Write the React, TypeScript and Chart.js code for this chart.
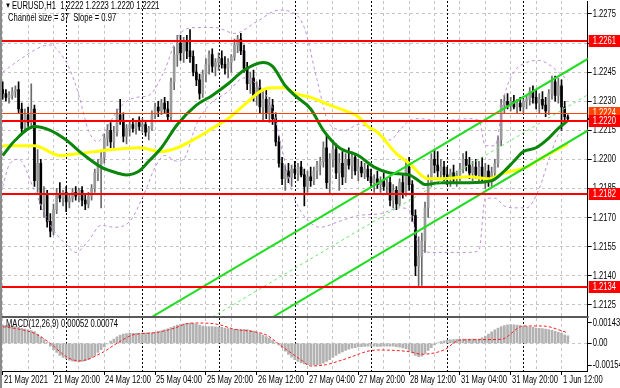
import React, { useEffect, useRef } from 'react';
import { Chart, registerables } from 'chart.js';

Chart.register(...registerables);

const FONT = "'Liberation Sans', Arial, sans-serif";
const FS = 10; // font size of the small chart text
const SX = 0.76; // horizontal condensing of the small chart text

// ---------- data ----------
const timeLabels = ['21 May 2021', '21 May 20:00', '24 May 12:00', '25 May 04:00', '25 May 20:00', '26 May 12:00',
  '27 May 04:00', '27 May 20:00', '28 May 12:00', '31 May 04:00', '31 May 20:00', '1 Jun 12:00'];
const gridBars = [0, 8, 16, 24, 32, 40, 48, 56, 64, 72, 80, 88, 96, 104, 112, 120, 128, 136, 144, 152, 160, 168, 176];
const daySeparatorBars = [20, 44, 68, 92, 116, 140, 164];
const priceTicks = [1.2275, 1.226, 1.2245, 1.223, 1.2215, 1.22, 1.2185, 1.217, 1.2155, 1.214, 1.2125];
const macdTicks = [0.00143, 0, -0.00154];
const redLevels = [1.2261, 1.222, 1.2182, 1.2134];
const orangeLevel = 1.2224;
const bidPrice = 1.2221;

// open, high, low, close  (H1 bars from 21 May 04:00)
const candles: [number, number, number, number][] = [
  [1.2236, 1.2240, 1.2231, 1.2234], [1.2234, 1.2236, 1.2230, 1.2232], [1.2232, 1.2235, 1.2229, 1.2233], [1.2233, 1.2237, 1.2231, 1.2235],
  [1.2235, 1.2238, 1.2232, 1.2236], [1.2236, 1.2240, 1.2224, 1.2226], [1.2226, 1.2229, 1.2213, 1.2216], [1.2216, 1.2226, 1.2214, 1.2223],
  [1.2223, 1.2227, 1.2217, 1.2219], [1.2219, 1.2239, 1.2216, 1.2226], [1.2226, 1.2228, 1.2186, 1.2189], [1.2189, 1.2205, 1.2183, 1.2198],
  [1.2198, 1.2200, 1.2174, 1.2177], [1.2177, 1.2186, 1.2170, 1.2182], [1.2182, 1.2184, 1.2165, 1.2168], [1.2168, 1.2172, 1.2160, 1.2163],
  [1.2163, 1.2177, 1.2161, 1.2174], [1.2174, 1.2185, 1.2172, 1.2182], [1.2182, 1.2188, 1.2178, 1.2180], [1.2180, 1.2184, 1.2176, 1.2183],
  [1.2183, 1.2186, 1.2173, 1.2178], [1.2178, 1.2182, 1.2175, 1.2180], [1.2180, 1.2185, 1.2178, 1.2183], [1.2183, 1.2186, 1.2179, 1.2181],
  [1.2181, 1.2185, 1.2178, 1.2184], [1.2184, 1.2186, 1.2176, 1.2179], [1.2179, 1.2182, 1.2174, 1.2177], [1.2177, 1.2183, 1.2175, 1.2181],
  [1.2181, 1.2187, 1.2179, 1.2185], [1.2185, 1.2195, 1.2183, 1.2193], [1.2193, 1.2200, 1.2189, 1.2197], [1.2197, 1.2204, 1.2175, 1.2201],
  [1.2201, 1.2213, 1.2198, 1.2211], [1.2211, 1.2218, 1.2207, 1.2215], [1.2215, 1.2219, 1.2206, 1.2209], [1.2209, 1.2217, 1.2205, 1.2214],
  [1.2214, 1.2226, 1.2212, 1.2223], [1.2223, 1.2231, 1.2218, 1.2220], [1.2220, 1.2224, 1.2209, 1.2212], [1.2212, 1.2218, 1.2208, 1.2216],
  [1.2216, 1.2220, 1.2212, 1.2218], [1.2218, 1.2221, 1.2214, 1.2216], [1.2216, 1.2220, 1.2213, 1.2219], [1.2219, 1.2222, 1.2215, 1.2217],
  [1.2217, 1.2221, 1.2214, 1.2218], [1.2218, 1.2220, 1.2212, 1.2214], [1.2214, 1.2217, 1.2210, 1.2216], [1.2216, 1.2225, 1.2215, 1.2223],
  [1.2223, 1.2229, 1.2221, 1.2227], [1.2227, 1.2230, 1.2222, 1.2225], [1.2225, 1.2231, 1.2223, 1.2229], [1.2229, 1.2232, 1.2224, 1.2226],
  [1.2226, 1.2230, 1.2220, 1.2222], [1.2222, 1.2242, 1.2220, 1.2240], [1.2240, 1.2258, 1.2236, 1.2254], [1.2254, 1.2264, 1.2248, 1.2260],
  [1.2260, 1.2264, 1.2251, 1.2255], [1.2255, 1.2263, 1.2250, 1.2261], [1.2261, 1.2264, 1.2252, 1.2256], [1.2256, 1.2267, 1.2250, 1.2253],
  [1.2253, 1.2256, 1.2243, 1.2245], [1.2245, 1.2249, 1.2238, 1.2241], [1.2241, 1.2244, 1.2231, 1.2234], [1.2234, 1.2246, 1.2232, 1.2244],
  [1.2244, 1.2252, 1.2240, 1.2249], [1.2249, 1.2256, 1.2244, 1.2254], [1.2254, 1.2257, 1.2245, 1.2248], [1.2248, 1.2252, 1.2243, 1.2250],
  [1.2250, 1.2255, 1.2246, 1.2252], [1.2252, 1.2256, 1.2247, 1.2249], [1.2249, 1.2253, 1.2244, 1.2247], [1.2247, 1.2252, 1.2242, 1.2250],
  [1.2250, 1.2254, 1.2245, 1.2253], [1.2253, 1.2262, 1.2251, 1.2259], [1.2259, 1.2264, 1.2255, 1.2262], [1.2262, 1.2265, 1.2254, 1.2256],
  [1.2256, 1.2259, 1.2245, 1.2247], [1.2247, 1.2250, 1.2236, 1.2239], [1.2239, 1.2245, 1.2234, 1.2242], [1.2242, 1.2246, 1.2230, 1.2233],
  [1.2233, 1.2240, 1.2228, 1.2237], [1.2237, 1.2241, 1.2224, 1.2227], [1.2227, 1.2235, 1.2220, 1.2231], [1.2231, 1.2236, 1.2221, 1.2224],
  [1.2224, 1.2232, 1.2219, 1.2228], [1.2228, 1.2231, 1.2218, 1.2221], [1.2221, 1.2224, 1.2207, 1.2209], [1.2209, 1.2212, 1.2196, 1.2198],
  [1.2198, 1.2201, 1.2187, 1.2190], [1.2190, 1.2197, 1.2184, 1.2194], [1.2194, 1.2198, 1.2188, 1.2191], [1.2191, 1.2197, 1.2186, 1.2195],
  [1.2195, 1.2199, 1.2190, 1.2193], [1.2193, 1.2198, 1.2189, 1.2196], [1.2196, 1.2199, 1.2191, 1.2192], [1.2192, 1.2195, 1.2176, 1.2186],
  [1.2186, 1.2194, 1.2183, 1.2191], [1.2191, 1.2196, 1.2186, 1.2189], [1.2189, 1.2196, 1.2187, 1.2194], [1.2194, 1.2199, 1.2190, 1.2197],
  [1.2197, 1.2201, 1.2192, 1.2199], [1.2199, 1.2209, 1.2196, 1.2206], [1.2206, 1.2212, 1.2185, 1.2188], [1.2188, 1.2203, 1.2182, 1.2200],
  [1.2200, 1.2210, 1.2196, 1.2205], [1.2205, 1.2208, 1.2190, 1.2193], [1.2193, 1.2203, 1.2184, 1.2198], [1.2198, 1.2204, 1.2187, 1.2191],
  [1.2191, 1.2203, 1.2188, 1.2200], [1.2200, 1.2206, 1.2195, 1.2197], [1.2197, 1.2204, 1.2190, 1.2201], [1.2201, 1.2203, 1.2192, 1.2194],
  [1.2194, 1.2200, 1.2189, 1.2196], [1.2196, 1.2199, 1.2191, 1.2193], [1.2193, 1.2198, 1.2190, 1.2195], [1.2195, 1.2197, 1.2189, 1.2191],
  [1.2191, 1.2195, 1.2186, 1.2188], [1.2188, 1.2192, 1.2183, 1.2190], [1.2190, 1.2194, 1.2185, 1.2187], [1.2187, 1.2191, 1.2183, 1.2189],
  [1.2189, 1.2193, 1.2184, 1.2186], [1.2186, 1.2190, 1.2182, 1.2188], [1.2188, 1.2191, 1.2176, 1.2179], [1.2179, 1.2187, 1.2175, 1.2184],
  [1.2184, 1.2186, 1.2174, 1.2177], [1.2177, 1.2190, 1.2176, 1.2188], [1.2188, 1.2192, 1.2180, 1.2183], [1.2183, 1.2200, 1.2181, 1.2196],
  [1.2196, 1.2201, 1.2184, 1.2187], [1.2187, 1.2189, 1.2168, 1.2171], [1.2171, 1.2174, 1.2140, 1.2145], [1.2145, 1.2160, 1.2134, 1.2150],
  [1.2150, 1.2162, 1.2135, 1.2158], [1.2158, 1.2178, 1.2152, 1.2175], [1.2175, 1.2192, 1.2170, 1.2188], [1.2188, 1.2203, 1.2186, 1.2200],
  [1.2200, 1.2205, 1.2193, 1.2197], [1.2197, 1.2204, 1.2191, 1.2194], [1.2194, 1.2200, 1.2190, 1.2196], [1.2196, 1.2199, 1.2189, 1.2192],
  [1.2192, 1.2196, 1.2187, 1.2190], [1.2190, 1.2195, 1.2186, 1.2193], [1.2193, 1.2197, 1.2188, 1.2190], [1.2190, 1.2194, 1.2186, 1.2192],
  [1.2192, 1.2198, 1.2189, 1.2195], [1.2195, 1.2203, 1.2193, 1.2200], [1.2200, 1.2204, 1.2194, 1.2197], [1.2197, 1.2201, 1.2190, 1.2193],
  [1.2193, 1.2199, 1.2189, 1.2196], [1.2196, 1.2200, 1.2190, 1.2192], [1.2192, 1.2199, 1.2188, 1.2196], [1.2196, 1.2201, 1.2189, 1.2191],
  [1.2191, 1.2198, 1.2185, 1.2194], [1.2194, 1.2197, 1.2186, 1.2189], [1.2189, 1.2196, 1.2186, 1.2193], [1.2193, 1.2200, 1.2190, 1.2198],
  [1.2198, 1.2212, 1.2196, 1.2210], [1.2210, 1.2231, 1.2207, 1.2228], [1.2228, 1.2233, 1.2224, 1.2230], [1.2230, 1.2234, 1.2226, 1.2228],
  [1.2228, 1.2232, 1.2225, 1.2230], [1.2230, 1.2233, 1.2226, 1.2227], [1.2227, 1.2231, 1.2224, 1.2229], [1.2229, 1.2232, 1.2225, 1.2227],
  [1.2227, 1.2231, 1.2224, 1.2230], [1.2230, 1.2233, 1.2226, 1.2231], [1.2231, 1.2237, 1.2228, 1.2235], [1.2235, 1.2238, 1.2229, 1.2232],
  [1.2232, 1.2236, 1.2226, 1.2229], [1.2229, 1.2234, 1.2224, 1.2231], [1.2231, 1.2235, 1.2226, 1.2228], [1.2228, 1.2232, 1.2222, 1.2225],
  [1.2225, 1.2236, 1.2223, 1.2234], [1.2234, 1.2243, 1.2231, 1.2240], [1.2240, 1.2243, 1.2230, 1.2233], [1.2233, 1.2242, 1.2229, 1.2238],
  [1.2238, 1.2241, 1.2215, 1.2227], [1.2227, 1.2230, 1.2220, 1.2222], [1.2222, 1.2223, 1.2220, 1.2221],
];

// [bar, price]
const greenMa: [number, number][] = [
  [0, 1.2202], [4, 1.2210], [10, 1.2217], [15, 1.2215], [20, 1.2210], [25, 1.2203], [31, 1.2196], [36, 1.2193], [39, 1.2192],
  [43, 1.2194], [46, 1.2199], [50, 1.2206], [55, 1.2218], [61, 1.2228], [66, 1.2233], [71, 1.2239], [76, 1.2246], [82, 1.2250],
  [85, 1.2248], [89, 1.2238], [92, 1.2233], [97, 1.2226], [101, 1.2215], [106, 1.2206], [112, 1.2202], [117, 1.2196], [122, 1.2193],
  [128, 1.2192], [131, 1.2189], [133, 1.2187], [138, 1.2188], [147, 1.2188], [154, 1.2189], [158, 1.2194], [161, 1.2199],
  [164, 1.2204], [168, 1.2206], [172, 1.2211], [175, 1.2216], [178, 1.2220],
];
const yellowMa: [number, number][] = [
  [0, 1.2207], [10, 1.2207], [18, 1.2202], [24, 1.2203], [34, 1.2205], [43, 1.2206], [50, 1.2204], [55, 1.2206], [61, 1.2211],
  [66, 1.2216], [71, 1.2221], [76, 1.2228], [82, 1.2236], [85, 1.2237], [89, 1.2237], [92, 1.2234], [97, 1.2232], [103, 1.2228],
  [108, 1.2225], [112, 1.2222], [115, 1.2217], [118, 1.2214], [124, 1.2203], [128, 1.2198], [134, 1.2190], [138, 1.2190],
  [147, 1.2191], [153, 1.2190], [158, 1.2193], [165, 1.2196], [168, 1.2199], [178, 1.2208],
];
const upperBand: [number, number][] = [
  [0, 1.2245], [5, 1.2251], [12, 1.2258], [15, 1.2259], [18, 1.2255], [21, 1.2247], [24, 1.2233], [27, 1.2215], [30, 1.2209],
  [32, 1.2214], [37, 1.2227], [42, 1.2232], [46, 1.2233], [51, 1.2246], [55, 1.2263], [61, 1.2268], [67, 1.2268], [73, 1.2265],
  [80, 1.2271], [87, 1.2277], [91, 1.2276], [95, 1.2268], [99, 1.2241], [103, 1.2218], [108, 1.2215], [112, 1.2218], [117, 1.2215],
  [122, 1.2210], [125, 1.2215], [128, 1.2220], [131, 1.2221], [138, 1.2220], [147, 1.2221], [150, 1.2220], [152, 1.2207],
  [155, 1.2207], [158, 1.2233], [161, 1.2245], [165, 1.2250], [169, 1.2251], [172, 1.2249], [175, 1.2245], [178, 1.2241],
];
const lowerBand: [number, number][] = [
  [0, 1.2186], [2, 1.2197], [5, 1.2200], [10, 1.2184], [15, 1.2166], [20, 1.2156], [23, 1.2152], [27, 1.2158], [31, 1.2166],
  [35, 1.2165], [40, 1.2168], [45, 1.2184], [48, 1.2196], [51, 1.2202], [55, 1.2199], [57, 1.2200], [61, 1.2218], [65, 1.2228],
  [71, 1.2235], [76, 1.2242], [81, 1.2237], [85, 1.2226], [88, 1.2205], [91, 1.2184], [94, 1.2173], [100, 1.2165], [106, 1.2168],
  [112, 1.2171], [119, 1.2172], [125, 1.2175], [128, 1.2174], [131, 1.2156], [135, 1.2152], [147, 1.2152], [150, 1.2153],
  [152, 1.2180], [155, 1.2180], [158, 1.2176], [161, 1.2175], [165, 1.2175], [169, 1.2185], [172, 1.2200], [175, 1.2213], [178, 1.2220],
];
// regression channel end points [bar, price]
const channelUpper: [number, number][] = [[40, 1.21119], [186, 1.22535]];
const channelMiddle: [number, number][] = [[40, 1.20934], [186, 1.2235]];
const channelLower: [number, number][] = [[40, 1.20749], [186, 1.22165]];

const macdHist = [
  0.00128, 0.00126, 0.00124, 0.00120, 0.00118, 0.00112, 0.00105, 0.00100, 0.00095, 0.00090,
  0.00082, 0.00065, 0.00045, 0.00025, 0.00005, -0.00020, -0.00045, -0.00065, -0.00085, -0.00100,
  -0.00110, -0.00118, -0.00125, -0.00128, -0.00130, -0.00128, -0.00122, -0.00115, -0.00100, -0.00085,
  -0.00065, -0.00045, -0.00025, -0.00005, 0.00015, 0.00030, 0.00045, 0.00058, 0.00065, 0.00068,
  0.00070, 0.00071, 0.00070, 0.00071, 0.00072, 0.00073, 0.00074, 0.00076, 0.00078, 0.00082,
  0.00088, 0.00095, 0.00102, 0.00110, 0.00120, 0.00128, 0.00134, 0.00138, 0.00140, 0.00143,
  0.00141, 0.00136, 0.00128, 0.00122, 0.00118, 0.00117, 0.00117, 0.00116, 0.00114, 0.00112,
  0.00108, 0.00104, 0.00101, 0.00098, 0.00097, 0.00097, 0.00098, 0.00096, 0.00092, 0.00086,
  0.00078, 0.00068, 0.00058, 0.00048, 0.00035, 0.00020, 0.00005, -0.00012, -0.00030, -0.00055,
  -0.00078, -0.00098, -0.00115, -0.00128, -0.00138, -0.00145, -0.00150, -0.00153, -0.00154, -0.00152,
  -0.00148, -0.00140, -0.00128, -0.00115, -0.00100, -0.00085, -0.00072, -0.00060, -0.00050, -0.00042,
  -0.00035, -0.00030, -0.00026, -0.00024, -0.00022, -0.00020, -0.00020, -0.00021, -0.00022, -0.00022,
  -0.00021, -0.00020, -0.00020, -0.00021, -0.00024, -0.00028, -0.00032, -0.00038, -0.00050, -0.00068,
  -0.00085, -0.00095, -0.00090, -0.00072, -0.00050, -0.00030, -0.00012, 0.00002, 0.00012, 0.00018,
  0.00022, 0.00025, 0.00027, 0.00028, 0.00028, 0.00029, 0.00030, 0.00030, 0.00029, 0.00029,
  0.00030, 0.00038, 0.00050, 0.00065, 0.00080, 0.00095, 0.00108, 0.00118, 0.00125, 0.00130,
  0.00131, 0.00130, 0.00128, 0.00125, 0.00122, 0.00118, 0.00115, 0.00112, 0.00108, 0.00106,
  0.00103, 0.00100, 0.00096, 0.00092, 0.00085, 0.00078, 0.00070, 0.00060, 0.00052,
];
const macdSignal: [number, number][] = [
  [0, 0.00117], [5, 0.00100], [10, 0.00070], [15, 0.0], [20, -0.00094], [24, -0.00124], [31, -0.00070], [36, 0.0],
  [41, 0.00059], [48, 0.00075], [54, 0.00106], [58, 0.00138], [62, 0.00143], [68, 0.00132], [73, 0.00099], [79, 0.00082],
  [83, 0.00059], [88, -0.00023], [94, -0.00117], [97, -0.00160], [102, -0.00150], [107, -0.00117], [118, -0.00047],
  [128, -0.00059], [132, -0.00077], [139, -0.00047], [144, 0.00023], [157, 0.00028], [164, 0.00122], [170, 0.00122], [178, 0.00074],
];

// ---------- scale geometry ----------
const X_MIN = -0.22;
const X_MAX = 184.25;
const P_MAX = 1.22817;
const P_MIN = 1.21192;
const M_MAX = 0.001782;
const M_MIN = -0.001951;
const AXIS_W = 32.3;

const pts = (arr: [number, number][]) => arr.map(([x, y]) => ({ x, y }));

function condensedText(ctx: CanvasRenderingContext2D, text: string, x: number, y: number, color: string) {
  ctx.save();
  ctx.font = `${FS}px ${FONT}`;
  ctx.fillStyle = color;
  ctx.textAlign = 'left';
  ctx.textBaseline = 'middle';
  ctx.translate(x, y);
  ctx.scale(SX, 1);
  ctx.fillText(text, 0, 0);
  ctx.restore();
}

function drawSeparators(chart: any) {
  const { ctx, chartArea: a, scales } = chart;
  const x = scales.x;
  ctx.save();
  ctx.beginPath();
  ctx.rect(a.left, a.top, a.right - a.left, a.bottom - a.top);
  ctx.clip();
  ctx.strokeStyle = '#000';
  ctx.lineWidth = 1;
  ctx.setLineDash([2, 2]);
  daySeparatorBars.forEach((b) => {
    const px = Math.round(x.getPixelForValue(b)) + 0.5;
    ctx.beginPath();
    ctx.moveTo(px, a.top);
    ctx.lineTo(px, a.bottom);
    ctx.stroke();
  });
  ctx.restore();
}

function drawLeftBorder(chart: any) {
  const { ctx, height } = chart;
  ctx.save();
  ctx.fillStyle = '#8a8a8a';
  ctx.fillRect(0, 0, 2, height);
  ctx.restore();
}

function drawYLabels(chart: any, ticks: number[], fmt: (v: number) => string) {
  const { ctx, chartArea: a, scales } = chart;
  ticks.forEach((v) => {
    condensedText(ctx, fmt(v), a.right + 5, Math.round(scales.y.getPixelForValue(v)) + 0.5, '#000');
  });
}

const mainDecor = {
  id: 'mainDecor',
  beforeDatasetsDraw(chart: any) {
    drawSeparators(chart);
  },
  afterDatasetsDraw(chart: any) {
    const { ctx, chartArea: a, scales } = chart;
    const y = scales.y;
    ctx.save();
    ctx.beginPath();
    ctx.rect(a.left, a.top, a.right - a.left, a.bottom - a.top);
    ctx.clip();
    const oy = Math.round(y.getPixelForValue(orangeLevel)) + 0.5;
    ctx.strokeStyle = '#ff4500';
    ctx.lineWidth = 1;
    ctx.beginPath();
    ctx.moveTo(a.left, oy);
    ctx.lineTo(a.right, oy);
    ctx.stroke();
    ctx.strokeStyle = '#ff0000';
    ctx.lineWidth = 2;
    redLevels.forEach((lv) => {
      const py = Math.round(y.getPixelForValue(lv));
      ctx.beginPath();
      ctx.moveTo(a.left, py);
      ctx.lineTo(a.right, py);
      ctx.stroke();
    });
    ctx.restore();
  },
  afterDraw(chart: any) {
    const { ctx, chartArea: a, scales, width } = chart;
    const y = scales.y;
    drawYLabels(chart, priceTicks, (v) => v.toFixed(4));
    const box = (v: number, color: string) => {
      const py = Math.round(y.getPixelForValue(v));
      ctx.fillStyle = color;
      ctx.fillRect(a.right + 1, py - 6, width - a.right - 1, 12);
      condensedText(ctx, v.toFixed(4), a.right + 5, py + 0.5, '#fff');
    };
    ctx.save();
    box(orangeLevel, '#ff4500');
    const by = Math.round(y.getPixelForValue(bidPrice));
    ctx.fillStyle = '#000';
    ctx.fillRect(a.right, by - 1, width - a.right, 2);
    redLevels.forEach((lv) => box(lv, '#ff0000'));
    // panel separator
    ctx.fillStyle = '#5a5a5a';
    ctx.fillRect(0, a.bottom, a.right + 1, 2);
    ctx.restore();
    drawLeftBorder(chart);
  },
};

const macdDecor = {
  id: 'macdDecor',
  beforeDatasetsDraw(chart: any) {
    drawSeparators(chart);
  },
  afterDraw(chart: any) {
    const { ctx, chartArea: a, scales } = chart;
    drawYLabels(chart, macdTicks, (v) => (v === 0 ? '0.00' : v.toFixed(5)));
    timeLabels.forEach((t, k) => {
      const px = scales.x.getPixelForValue(k * 16);
      condensedText(ctx, t, Math.round(px) + 1, a.bottom + 9.5, '#000');
    });
    drawLeftBorder(chart);
  },
};

export default function App() {
  const mainRef = useRef<HTMLCanvasElement>(null);
  const macdRef = useRef<HTMLCanvasElement>(null);

  useEffect(() => {
    document.body.style.margin = '0';

    const bullBody = '#9a9a9a';
    const bodyColors = candles.map((c) => (c[3] >= c[0] ? bullBody : '#000000'));
    const wickColors = candles.map((c) => (c[3] >= c[0] ? '#6a6a6a' : '#000000'));

    const lineDs = (data: [number, number][], color: string, width: number, order: number, dash: number[] = []) => ({
      type: 'line' as const,
      data: pts(data),
      borderColor: color,
      borderWidth: width,
      borderDash: dash,
      pointRadius: 0,
      tension: 0.4,
      cubicInterpolationMode: 'monotone' as const,
      fill: false,
      order,
      clip: 0,
    });

    const straight = (data: [number, number][], color: string, width: number, order: number, dash: number[] = []) => ({
      type: 'line' as const,
      data: pts(data),
      borderColor: color,
      borderWidth: width,
      borderDash: dash,
      pointRadius: 0,
      tension: 0,
      fill: false,
      order,
      clip: 0,
    });

    const main = new Chart(mainRef.current as HTMLCanvasElement, {
      type: 'bar',
      data: {
        datasets: [
          {
            type: 'bar',
            data: candles.map((c, i) => ({ x: i, y: [c[2], c[1]] })) as any,
            backgroundColor: wickColors,
            barThickness: 1,
            grouped: false,
            order: 20,
          },
          {
            type: 'bar',
            data: candles.map((c, i) => ({ x: i, y: [Math.min(c[0], c[3]), Math.max(c[0], c[3])] })) as any,
            backgroundColor: bodyColors,
            barThickness: 2,
            grouped: false,
            order: 19,
          },
          lineDs(upperBand, '#bf8fdc', 1, 15, [3, 3]) as any,
          lineDs(lowerBand, '#bf8fdc', 1, 14, [3, 3]) as any,
          lineDs(yellowMa, '#ffff00', 3, 12) as any,
          lineDs(greenMa, '#0a860a', 3, 11) as any,
          straight(channelMiddle, '#6ee86e', 1, 5, [3, 3]) as any,
          straight(channelUpper, '#22dd22', 2, 4) as any,
          straight(channelLower, '#22dd22', 2, 3) as any,
        ],
      },
      options: {
        responsive: false,
        animation: false,
        events: [],
        layout: { padding: { left: 2, top: 1, right: 0, bottom: 2 } },
        plugins: { legend: { display: false }, tooltip: { enabled: false } },
        scales: {
          x: {
            type: 'linear',
            min: X_MIN,
            max: X_MAX,
            offset: false,
            grid: { color: '#c4c4c4', drawTicks: false, offset: false },
            border: { display: false, dash: [3, 3] },
            ticks: { display: false },
            afterBuildTicks: (s: any) => {
              s.ticks = gridBars.map((v) => ({ value: v }));
            },
            afterFit: (s: any) => {
              s.height = 0;
            },
          },
          y: {
            type: 'linear',
            position: 'right',
            min: P_MIN,
            max: P_MAX,
            grid: { color: '#c4c4c4', tickColor: '#000', tickLength: 4, tickBorderDash: [] },
            border: { display: true, color: '#000', dash: [3, 3] },
            ticks: { display: false },
            afterBuildTicks: (s: any) => {
              s.ticks = priceTicks.map((v) => ({ value: v }));
            },
            afterFit: (s: any) => {
              s.width = AXIS_W;
            },
          },
        },
      },
      plugins: [mainDecor],
    });

    const macd = new Chart(macdRef.current as HTMLCanvasElement, {
      type: 'bar',
      data: {
        datasets: [
          {
            type: 'bar',
            data: macdHist.map((v, i) => ({ x: i, y: v })) as any,
            backgroundColor: '#b2b2b2',
            barThickness: 2,
            grouped: false,
            order: 10,
          },
          {
            type: 'line',
            data: pts(macdSignal) as any,
            borderColor: '#ff2020',
            borderWidth: 1,
            borderDash: [3, 2],
            pointRadius: 0,
            tension: 0.4,
            cubicInterpolationMode: 'monotone',
            order: 1,
            clip: 0,
          } as any,
        ],
      },
      options: {
        responsive: false,
        animation: false,
        events: [],
        layout: { padding: { left: 2, top: 0, right: 0, bottom: 0 } },
        plugins: { legend: { display: false }, tooltip: { enabled: false } },
        scales: {
          x: {
            type: 'linear',
            min: X_MIN,
            max: X_MAX,
            offset: false,
            grid: {
              color: '#c4c4c4',
              offset: false,
              drawTicks: true,
              tickLength: 4,
              tickBorderDash: [],
              tickColor: (c: any) => (c.index % 2 === 0 ? '#000' : 'rgba(0,0,0,0)'),
            },
            border: { display: true, color: '#000', dash: [3, 3] },
            ticks: { display: false },
            afterBuildTicks: (s: any) => {
              s.ticks = gridBars.map((v) => ({ value: v }));
            },
            afterFit: (s: any) => {
              s.height = 17;
            },
          },
          y: {
            type: 'linear',
            position: 'right',
            min: M_MIN,
            max: M_MAX,
            grid: {
              color: (c: any) => (c.tick && c.tick.value === 0 ? '#c4c4c4' : 'rgba(0,0,0,0)'),
              tickColor: '#000',
              tickLength: 4,
              tickBorderDash: [],
            },
            border: { display: true, color: '#000', dash: [3, 3] },
            ticks: { display: false },
            afterBuildTicks: (s: any) => {
              s.ticks = macdTicks.map((v) => ({ value: v }));
            },
            afterFit: (s: any) => {
              s.width = AXIS_W;
            },
          },
        },
      },
      plugins: [macdDecor],
    });

    return () => {
      main.destroy();
      macd.destroy();
    };
  }, []);

  const txt: React.CSSProperties = {
    position: 'absolute',
    fontFamily: FONT,
    fontSize: FS,
    lineHeight: '12px',
    color: '#000',
    whiteSpace: 'pre',
    transform: `scaleX(${SX})`,
    transformOrigin: '0 0',
  };

  return (
    <div style={{ position: 'relative', width: 620, height: 388, background: '#fff', overflow: 'hidden' }}>
      <canvas ref={mainRef} width={620} height={318} style={{ position: 'absolute', left: 0, top: 0, display: 'block' }} />
      <canvas ref={macdRef} width={620} height={70} style={{ position: 'absolute', left: 0, top: 318, display: 'block' }} />
      <div style={{ ...txt, left: 5, top: 0, fontSize: 8 }}>▼</div>
      <div style={{ ...txt, left: 12, top: 0 }}>EURUSD,H1  1.2222 1.2223 1.2220 1.2221</div>
      <div style={{ ...txt, left: 8, top: 12 }}>Channel size = 37  Slope = 0.97</div>
      <div style={{ ...txt, left: 6, top: 318 }}>MACD(12,26,9) 0.00052 0.00074</div>
    </div>
  );
}
